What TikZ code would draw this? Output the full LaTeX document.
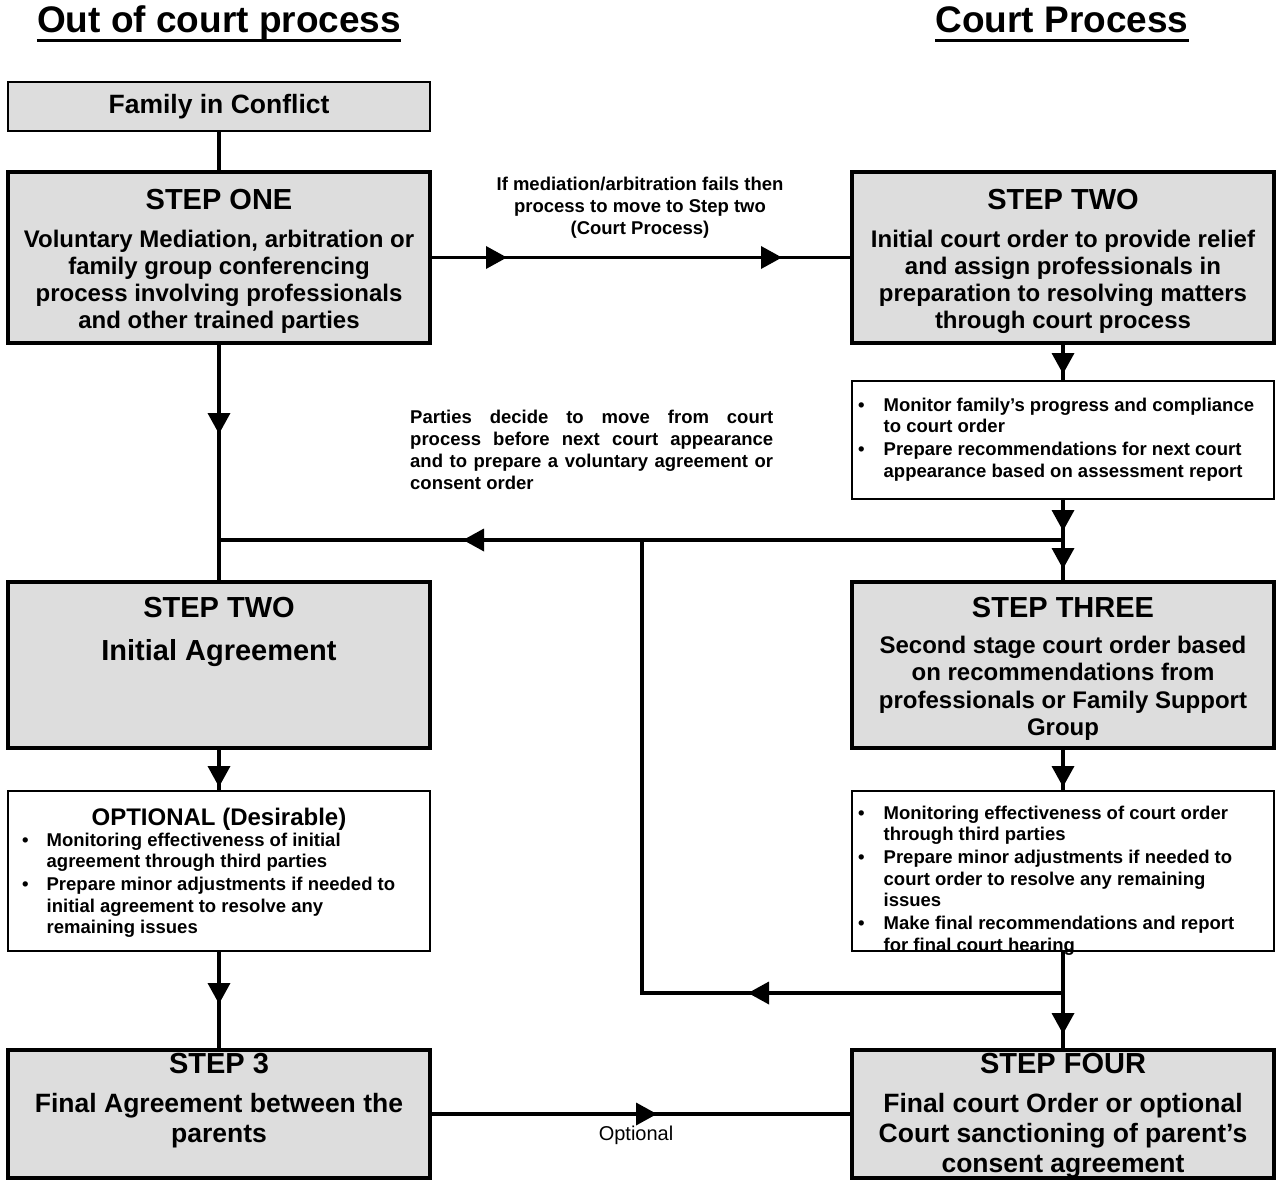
\documentclass[tikz,border=0pt]{standalone}
\usepackage{fontspec}
\setmainfont{Liberation Sans}
\usetikzlibrary{arrows.meta,decorations.markings}
\definecolor{boxgray}{RGB}{221,221,221}
\newcommand\fsz[2]{\fontsize{#1}{#2}\selectfont}
\tikzset{
  thickbox/.style={draw, line width=4pt, fill=boxgray, inner sep=0pt},
  thinbox/.style={draw, line width=2pt, fill=white, inner sep=0pt},
  conn/.style={line width=3.6pt},
  tipat/.style={postaction={decorate}, decoration={markings,
      mark=at position #1 with {\arrow{Triangle[length=21pt,width=22pt]}}}},
  twotips/.style 2 args={postaction={decorate}, decoration={markings,
      mark=at position #1 with {\arrow{Triangle[length=21pt,width=22pt]}},
      mark=at position #2 with {\arrow{Triangle[length=21pt,width=22pt]}}}},
  txt/.style={inner sep=0pt, font=\bfseries},
}
\begin{document}
\begin{tikzpicture}[x=1pt,y=-1pt]
\useasboundingbox[fill=white] (0,0) rectangle (1276,1182);

% headers
\node[txt, anchor=base, font=\bfseries\fsz{37}{44}] (hl) at (219,33) {Out of court process};
\node[txt, anchor=base, font=\bfseries\fsz{37}{44}] (hr) at (1062,33) {Court Process};
\draw[line width=3pt] ([yshift=-8pt]hl.base west) -- ([yshift=-8pt]hl.base east);
\draw[line width=3pt] ([yshift=-8pt]hr.base west) -- ([yshift=-8pt]hr.base east);

% boxes
\node[thinbox, fill=boxgray, minimum width=422pt, minimum height=49pt,
      font=\bfseries\fsz{26.5}{30}] (fam) at (219,106.5) {Family in Conflict};
\node[thickbox, minimum width=422pt, minimum height=171pt] (s1) at (219,257.5) {};
\node[thickbox, minimum width=422pt, minimum height=171pt] (s2r) at (1063,257.5) {};
\node[thinbox, minimum width=422pt, minimum height=118pt] (mon) at (1063,440) {};
\node[thickbox, minimum width=422pt, minimum height=166pt] (s2l) at (219,665) {};
\node[thickbox, minimum width=422pt, minimum height=166pt] (s3r) at (1063,665) {};
\node[thinbox, minimum width=422pt, minimum height=160pt] (opt) at (219,871) {};
\node[thinbox, minimum width=422pt, minimum height=160pt] (bul) at (1063,871) {};
\node[thickbox, minimum width=422pt, minimum height=128pt] (st3) at (219,1114) {};
\node[thickbox, minimum width=422pt, minimum height=128pt] (s4) at (1063,1114) {};

% junctions
\coordinate (J1) at (219,540);
\coordinate (J2) at (1063,540);
\coordinate (J3) at (642,540);
\coordinate (J4) at (642,993);
\coordinate (J5) at (1063,993);

% connectors
\draw[conn] (fam.south) -- (s1.north);
\draw[conn, twotips={75pt}{350pt}] (s1.east) -- (s2r.west);
\draw[conn, tipat=89pt] (s1.south) -- (J1) -- (s2l.north);
\draw[conn, tipat=29pt] (s2r.south) -- (mon.north);
\draw[conn, twotips={31pt}{69pt}] (mon.south) -- (s3r.north);
\draw[conn, tipat=600pt] (J2) -- (J1);
\draw[conn, tipat=315pt] (J5) -- (J4) -- (J3);
\draw[conn, tipat=37pt] (s3r.south) -- (bul.north);
\draw[conn, tipat=82pt] (bul.south) -- (s4.north);
\draw[conn, tipat=37pt] (s2l.south) -- (opt.north);
\draw[conn, tipat=52pt] (opt.south) -- (st3.north);
\draw[conn, tipat=225pt] (st3.east) -- (s4.west);

% texts (multi-line nodes: base = baseline of last line)
\node[txt, anchor=base, font=\bfseries\fsz{29}{33}] (s1h) at (219,210) {STEP ONE};
\node[txt, anchor=base, align=center, font=\bfseries\fsz{24}{27}] (s1b) at (219,328)
  {Voluntary Mediation, arbitration or\\family group conferencing\\process involving professionals\\and other trained parties};

\node[txt, anchor=base, font=\bfseries\fsz{29}{33}] (s2rh) at (1063,210) {STEP TWO};
\node[txt, anchor=base, align=center, font=\bfseries\fsz{24}{27}] (s2rb) at (1063,328)
  {Initial court order to provide relief\\and assign professionals in\\preparation to resolving matters\\through court process};

\node[txt, anchor=base, align=center, font=\bfseries\fsz{18.5}{22}] (medl) at (640,235)
  {If mediation/arbitration fails then\\process to move to Step two\\(Court Process)};

\node[txt, anchor=base west, font=\bfseries\fsz{18.5}{21.5}] (monb) at (858,411)
  {\begin{tabular}[t]{@{}l@{\hspace{19pt}}l@{}}
   \textbullet & Monitor family’s progress and compliance\\
    & to court order\\[1.5pt]
   \textbullet & Prepare recommendations for next court\\
    & appearance based on assessment report
   \end{tabular}};

\node[txt, anchor=north west, text width=363pt, align=justify, font=\bfseries\fsz{18.5}{22}] (part) at (410,410)
  {Parties decide to move from court\linebreak process before next court appearance\linebreak and to prepare a voluntary agreement or\linebreak consent order};

\node[txt, anchor=base, font=\bfseries\fsz{29}{33}] (s2lh) at (219,617.5) {STEP TWO};
\node[txt, anchor=base, font=\bfseries\fsz{29}{33}] (s2lb) at (219,660) {Initial Agreement};

\node[txt, anchor=base, font=\bfseries\fsz{29}{33}] (s3rh) at (1063,617.5) {STEP THREE};
\node[txt, anchor=base, align=center, font=\bfseries\fsz{24}{27.5}] (s3rb) at (1063,735.5)
  {Second stage court order based\\on recommendations from\\professionals or Family Support\\Group};

\node[txt, anchor=base, font=\bfseries\fsz{24}{28}] (opth) at (219,825) {OPTIONAL (Desirable)};
\node[txt, anchor=base west, font=\bfseries\fsz{18.5}{21.5}] (optb) at (22,846)
  {\begin{tabular}[t]{@{}l@{\hspace{18pt}}l@{}}
   \textbullet & Monitoring effectiveness of initial\\
    & agreement through third parties\\[1.5pt]
   \textbullet & Prepare minor adjustments if needed to\\
    & initial agreement to resolve any\\
    & remaining issues
   \end{tabular}};

\node[txt, anchor=base west, font=\bfseries\fsz{18.5}{21.5}] (bulb) at (858,819)
  {\begin{tabular}[t]{@{}l@{\hspace{19pt}}l@{}}
   \textbullet & Monitoring effectiveness of court order\\
    & through third parties\\[1.5pt]
   \textbullet & Prepare minor adjustments if needed to\\
    & court order to resolve any remaining\\
    & issues\\[1.5pt]
   \textbullet & Make final recommendations and report\\
    & for final court hearing
   \end{tabular}};

\node[txt, anchor=base, font=\bfseries\fsz{29}{33}] (st3h) at (219,1073.5) {STEP 3};
\node[txt, anchor=base, align=center, font=\bfseries\fsz{26.5}{30}] (st3b) at (219,1142)
  {Final Agreement between the\\parents};

\node[txt, anchor=base, font=\bfseries\fsz{29}{33}] (s4h) at (1063,1073.5) {STEP FOUR};
\node[txt, anchor=base, align=center, font=\bfseries\fsz{26.5}{30}] (s4b) at (1063,1172)
  {Final court Order or optional\\Court sanctioning of parent’s\\consent agreement};

\node[inner sep=0pt, anchor=base, font=\fsz{20}{24}] (optl) at (636,1140) {Optional};
\end{tikzpicture}
\end{document}
